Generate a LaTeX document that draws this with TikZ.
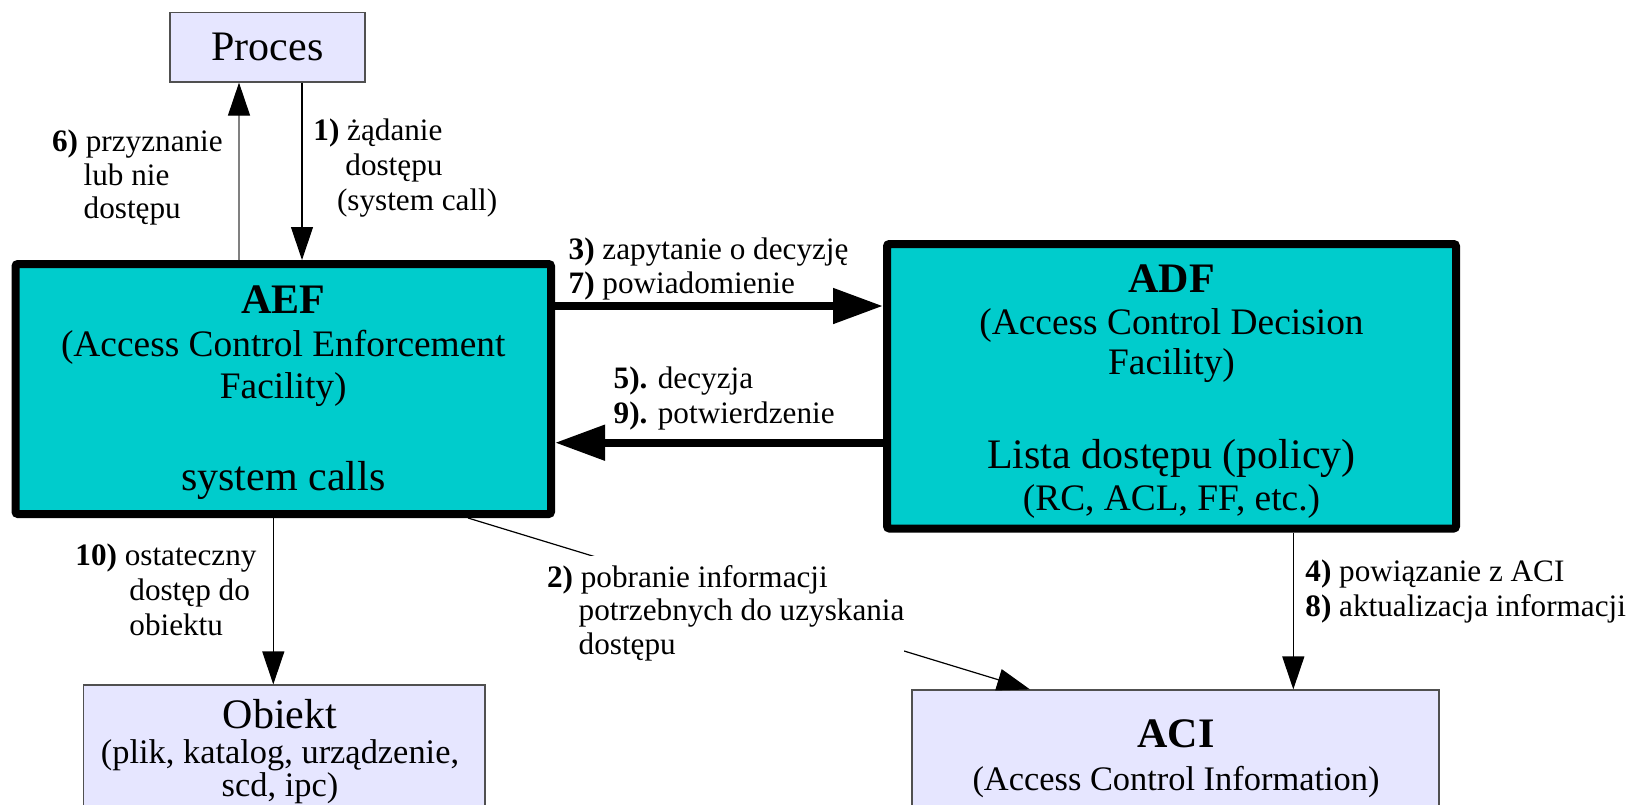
\documentclass[tikz,border=0pt]{standalone}
\usepackage{fontspec}
\setmainfont{Liberation Serif}
\usetikzlibrary{arrows.meta,calc}
\definecolor{boxcyan}{RGB}{0,204,204}
\definecolor{boxlav}{RGB}{230,230,255}
\definecolor{edgegray}{RGB}{80,80,80}
\definecolor{arrgray}{RGB}{128,128,128}
\newcommand\fLbl{\fontsize{15.6pt}{17pt}\selectfont}
\newcommand\fBig{\fontsize{21pt}{24pt}\selectfont}
\newcommand\fMed{\fontsize{18.7pt}{21pt}\selectfont}
\newcommand\fSml{\fontsize{17.2pt}{20pt}\selectfont}
\begin{document}
\begin{tikzpicture}[x=0.5pt,y=-0.5pt,
  thinbox/.style={draw=edgegray, line width=0.6pt, fill=boxlav, inner sep=0pt},
  thickbox/.style={draw=black, line width=4pt, fill=boxcyan, inner sep=0pt, rounded corners=1.2pt},
  thinarr/.style={line width=0.6pt, -{Triangle[length=16.5pt,width=11pt,color=black]}},
  thickarr/.style={line width=4pt, -{Triangle[length=25pt,width=17pt]}},
  lbl/.style={font=\fLbl, inner sep=0pt, anchor=base west},
  ttl/.style={font=\fBig\bfseries, inner sep=0pt, anchor=base},
  bigt/.style={font=\fBig, inner sep=0pt, anchor=base},
  medt/.style={font=\fMed, inner sep=0pt, anchor=base},
  smlt/.style={font=\fSml, inner sep=0pt, anchor=base}]
\useasboundingbox (0,0) rectangle (1638,804);
\clip (0,0) rectangle (1638,804);

% boxes
\node[thinbox, minimum width=97.5pt, minimum height=34.75pt, font=\fBig] (proc) at (267.5,47.25) {Proces};
\node[thickbox, minimum width=267.75pt, minimum height=125pt] (AEF) at (283.25,389) {};
\node[thickbox, minimum width=284.5pt, minimum height=142.25pt] (ADF) at (1171.5,386.25) {};
\node[thinbox, minimum width=200.85pt, minimum height=72.5pt] (obj) at (284.15,757.5) {};
\node[thinbox, minimum width=263.5pt, minimum height=70pt] (ACI) at (1175.5,760) {};

% box texts
\node[ttl]  (aefA) at (283.25,313.3) {AEF};
\node[medt] (aefB) at (283.25,356.7) {(Access Control Enforcement};
\node[medt] (aefC) at (283.25,398.3) {Facility)};
\node[bigt] (aefD) at (283.25,490) {system calls};

\node[ttl]  (adfA) at (1171.5,292) {ADF};
\node[medt] (adfB) at (1171.5,334.5) {(Access Control Decision};
\node[medt] (adfC) at (1171.5,374.5) {Facility)};
\node[bigt] (adfD) at (1171.5,468.3) {Lista dostępu (policy)};
\node[medt] (adfE) at (1171.5,510) {(RC, ACL, FF, etc.)};

\node[bigt] (objA) at (280,728) {Obiekt};
\node[smlt] (objB) at (280,763) {(plik, katalog, urządzenie,};
\node[smlt] (objC) at (280,796) {scd, ipc)};

\node[ttl]  (aciA) at (1176,747) {ACI};
\node[smlt] (aciB) at (1176,790) {(Access Control Information)};

% connectors
\draw[thinarr, draw=arrgray] (AEF.north -| 239,0) -- (proc.south -| 239,0);
\draw[thinarr] (proc.south -| 302,0) -- (AEF.north -| 302,0);
\draw[thickarr] (AEF.east |- 0,306) -- (ADF.west |- 0,306);
\draw[thickarr] (ADF.west |- 0,442.7) -- (AEF.east |- 0,442.7);
\draw[thinarr] (AEF.south -| 273.3,0) -- (obj.north -| 273.3,0);
\draw[thinarr] (ADF.south -| 1293.3,0) -- (ACI.north -| 1293.3,0);
\draw[thinarr] (AEF.south -| 468,0) -- (ACI.north -| 1030,0);

% labels
\node[lbl] (l6) at (51.7,151.7) {\vtop{\baselineskip=16.7pt\hbox{\textbf{6)} przyznanie}\hbox{\kern15.8pt lub nie}\hbox{\kern15.8pt dostępu}}};
\node[lbl] (l1) at (313,140) {\vtop{\baselineskip=17.6pt\hbox{\textbf{1)} żądanie}\hbox{\kern16pt dostępu}\hbox{\kern11.8pt (system call)}}};
\node[lbl] (l37) at (568.3,259.3) {\vtop{\baselineskip=17pt\hbox{\textbf{3)} zapytanie o decyzję}\hbox{\textbf{7)} powiadomienie}}};
\node[lbl] (l59) at (613.3,388.3) {\vtop{\baselineskip=17.5pt\hbox{\textbf{5).} decyzja}\hbox{\textbf{9).} potwierdzenie}}};
\node[lbl] (l10) at (75,565) {\vtop{\baselineskip=17.5pt\hbox{\textbf{10)} ostateczny}\hbox{\kern27pt dostęp do}\hbox{\kern27pt obiektu}}};
\node[lbl, fill=white, inner ysep=4.5pt] (l2) at (546.7,587.3) {\vtop{\baselineskip=16.8pt\hbox{\textbf{2)} pobranie informacji}\hbox{\kern15.8pt potrzebnych do uzyskania}\hbox{\kern15.8pt dostępu}}};
\node[lbl] (l48) at (1305,581) {\vtop{\baselineskip=17.5pt\hbox{\textbf{4)} powiązanie z ACI}\hbox{\textbf{8)} aktualizacja informacji}}};
\end{tikzpicture}
\end{document}
